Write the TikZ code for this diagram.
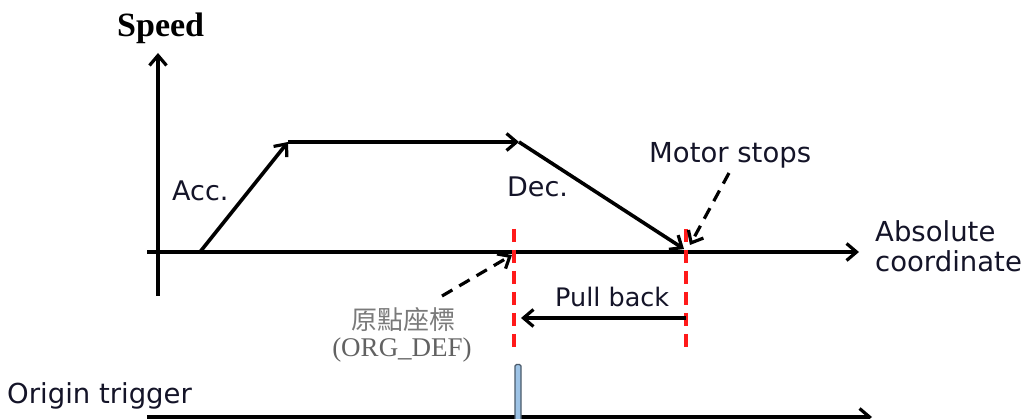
\documentclass[tikz,border=0pt]{standalone}
\usepackage{fontspec}
\usetikzlibrary{arrows.meta}
\newfontfamily\labfont{DejaVu Sans}
\newfontfamily\tmsfont{Liberation Serif}
\newfontfamily\cjkfont{Noto Sans CJK TC}
\definecolor{redline}{HTML}{FF1A1A}
\definecolor{pulsefill}{HTML}{9DC3E6}
\definecolor{pulsedraw}{HTML}{4A5A6A}
\definecolor{graytext}{HTML}{7A7A7A}
\definecolor{labtext}{HTML}{141428}
\begin{document}
\begin{tikzpicture}[x=1pt,y=-1pt,
  axisline/.style={line width=3.6pt,black},
  barb/.style={-{Straight Barb[length=10pt,width=17pt,line width=3.2pt]}},
  motion/.style={axisline,barb},
  callout/.style={line width=3.2pt,dash pattern=on 12pt off 8pt,barb},
  marker/.style={line width=3.6pt,redline,dash pattern=on 13pt off 8pt},
  lab/.style={font=\labfont\fontsize{27}{30}\selectfont,text=labtext,inner sep=0pt,anchor=base west},
  ]
\useasboundingbox (0,0) rectangle (1028,419);

% speed axis
\node[font=\tmsfont\bfseries\fontsize{34}{34}\selectfont,inner sep=0pt,anchor=base west] (speed) at (117,37) {Speed};
\coordinate (yb) at (158,296);
\coordinate (yt) at (158,53);
\draw[axisline,barb] (yb) -- (yt);

% absolute coordinate axis
\coordinate (xl) at (147,252);
\coordinate (xr) at (859,252);
\draw[axisline,barb] (xl) -- (xr);
\node[lab,align=left,anchor=north west,font=\labfont\fontsize{27.5}{30}\selectfont] (abs) at (875,220) {Absolute\\coordinate};

% red dashed markers
\coordinate (r1t) at (514,229);
\coordinate (r1b) at (514,352);
\coordinate (r2t) at (686,229);
\coordinate (r2b) at (686,352);
\draw[marker] (r1t) -- (r1b);
\draw[marker] (r2t) -- (r2b);

% speed profile
\coordinate (p0) at (200,252);
\coordinate (p1) at (288,142);
\coordinate (p2) at (519,142);
\coordinate (p3) at (684,249);
\draw[motion] (p0) -- (p1);
\draw[motion] (p1) -- (p2);
\draw[motion] (p2) -- (p3);

\node[lab] (acc) at (172,201) {Acc.};
\node[lab] (dec) at (507,197) {Dec.};
\node[lab,font=\labfont\fontsize{27.5}{30}\selectfont] (motor) at (649,163) {Motor stops};

% callouts
\coordinate (ms1) at (729,173);
\coordinate (ms2) at (690,245);
\draw[callout] (ms1) -- (ms2);
\coordinate (og1) at (442,296);
\coordinate (og2) at (512,255);
\draw[callout] (og1) -- (og2);

\node[font=\cjkfont\fontsize{26}{26}\selectfont,text=graytext,inner sep=0pt] (cjk) at (403,320) {原點座標};
\node[font=\tmsfont\fontsize{27}{27}\selectfont,text=graytext!80!black,inner sep=0pt] (orgdef) at (402,350) {(ORG\_DEF)};

% pull back
\node[lab,font=\labfont\fontsize{25.5}{30}\selectfont] (pull) at (555,307) {Pull back};
\coordinate (pb1) at (686,318);
\coordinate (pb2) at (521,318);
\draw[motion] (pb1) -- (pb2);

% origin trigger
\node[lab,font=\labfont\fontsize{27.5}{30}\selectfont] (trig) at (7,403) {Origin trigger};
\coordinate (bl) at (147,417);
\coordinate (br) at (872,417);
\draw[axisline,barb] (bl) -- (br);
\draw[pulsedraw,fill=pulsefill,line width=1.2pt,rounded corners=1.5pt] (515,421) rectangle (521,364.5);
\end{tikzpicture}
\end{document}
